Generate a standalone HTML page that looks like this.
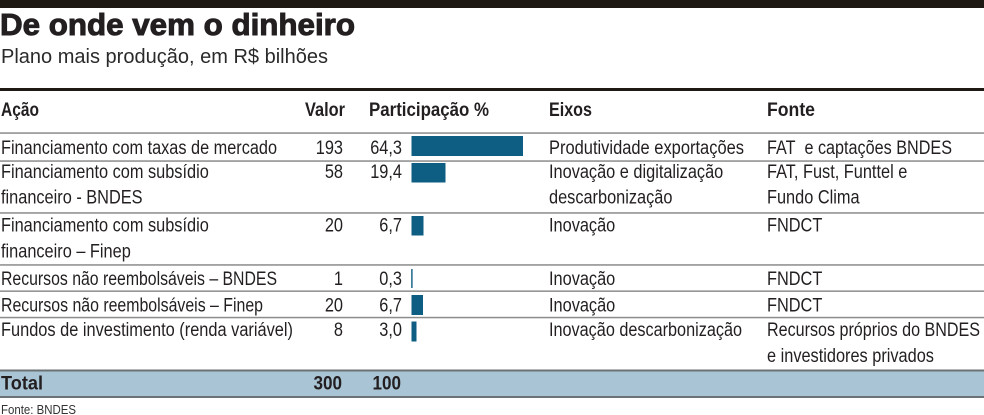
<!DOCTYPE html>
<html>
<head>
<meta charset="utf-8">
<style>
  html, body { margin:0; padding:0; background:#ffffff; }
  body { width:984px; height:415px; overflow:hidden; }
  svg { display:block; }
  .t { font-family:"Liberation Sans", Arial, sans-serif; font-size:19px; fill:#231f20; }
  .b { font-family:"Liberation Sans", Arial, sans-serif; font-size:19px; font-weight:bold; fill:#231f20; }
</style>
</head>
<body>
<svg width="984" height="415" viewBox="0 0 984 415" xmlns="http://www.w3.org/2000/svg">
  <!-- top bar -->
  <rect x="0" y="0" width="984" height="8" fill="#1e1912"/>
  <!-- title -->
  <text x="0" y="35" font-family="Liberation Sans, Arial, sans-serif" font-size="31" font-weight="bold" fill="#231f20" stroke="#231f20" stroke-width="1" textLength="355" lengthAdjust="spacingAndGlyphs">De onde vem o dinheiro</text>
  <text x="1" y="63" font-family="Liberation Sans, Arial, sans-serif" font-size="20" fill="#2a2a2a" textLength="327" lengthAdjust="spacingAndGlyphs">Plano mais produção, em R$ bilhões</text>

  <!-- header line -->
  <rect x="0" y="88" width="984" height="3" fill="#1e1912"/>

  <!-- headers -->
  <text class="b" x="1" y="116" textLength="38" lengthAdjust="spacingAndGlyphs">Ação</text>
  <text class="b" x="305" y="116" textLength="40" lengthAdjust="spacingAndGlyphs">Valor</text>
  <text class="b" x="369" y="116" textLength="120" lengthAdjust="spacingAndGlyphs">Participação %</text>
  <text class="b" x="549" y="116" textLength="43" lengthAdjust="spacingAndGlyphs">Eixos</text>
  <text class="b" x="767" y="116" textLength="48" lengthAdjust="spacingAndGlyphs">Fonte</text>

  <!-- row separators -->
  <g fill="#8c8c8c">
    <rect x="0" y="132.3" width="984" height="1.5"/>
    <rect x="0" y="160.3" width="984" height="1.5"/>
    <rect x="0" y="212.2" width="984" height="1.5"/>
    <rect x="0" y="264.2" width="984" height="1.5"/>
    <rect x="0" y="290.4" width="984" height="1.5"/>
    <rect x="0" y="316.8" width="984" height="1.5"/>
  </g>

  <!-- total band -->
  <rect x="0" y="369.5" width="984" height="28" fill="#a9c4d4"/>
  <rect x="0" y="369.5" width="984" height="2" fill="#6b7275"/>
  <rect x="0" y="396" width="984" height="2" fill="#6b7275"/>

  <!-- bars -->
  <g fill="#0d5e82">
    <rect x="411.5" y="136" width="111.5" height="20"/>
    <rect x="411.5" y="163" width="34" height="19.5"/>
    <rect x="411.5" y="216" width="12" height="19.5"/>
    <rect x="411.2" y="269" width="1.4" height="19"/>
    <rect x="411.5" y="295" width="11.5" height="20"/>
    <rect x="411.5" y="321.5" width="5" height="20"/>
  </g>

  <!-- Row 1 -->
  <text class="t" x="1" y="154" textLength="276" lengthAdjust="spacingAndGlyphs">Financiamento com taxas de mercado</text>
  <text class="t" text-anchor="end" transform="translate(343 154) scale(0.86 1)">193</text>
  <text class="t" text-anchor="end" transform="translate(402 154) scale(0.86 1)">64,3</text>
  <text class="t" x="549" y="154" textLength="195" lengthAdjust="spacingAndGlyphs">Produtividade exportações</text>
  <text class="t" x="767" y="154" textLength="185" lengthAdjust="spacingAndGlyphs">FAT&#160;&#160;e captações BNDES</text>

  <!-- Row 2 -->
  <text class="t" transform="translate(1 178) scale(0.86 1)">Financiamento com subsídio</text>
  <text class="t" transform="translate(1 203.5) scale(0.86 1)">financeiro - BNDES</text>
  <text class="t" text-anchor="end" transform="translate(343 178) scale(0.86 1)">58</text>
  <text class="t" text-anchor="end" transform="translate(402 178) scale(0.86 1)">19,4</text>
  <text class="t" transform="translate(549 178) scale(0.86 1)">Inovação e digitalização</text>
  <text class="t" transform="translate(549 203.5) scale(0.86 1)">descarbonização</text>
  <text class="t" transform="translate(767 178) scale(0.86 1)">FAT, Fust, Funttel e</text>
  <text class="t" transform="translate(767 203.5) scale(0.86 1)">Fundo Clima</text>

  <!-- Row 3 -->
  <text class="t" transform="translate(1 231.5) scale(0.86 1)">Financiamento com subsídio</text>
  <text class="t" transform="translate(1 257.5) scale(0.86 1)">financeiro – Finep</text>
  <text class="t" text-anchor="end" transform="translate(343 231.5) scale(0.86 1)">20</text>
  <text class="t" text-anchor="end" transform="translate(402 231.5) scale(0.86 1)">6,7</text>
  <text class="t" transform="translate(549 231.5) scale(0.86 1)">Inovação</text>
  <text class="t" transform="translate(767 231.5) scale(0.86 1)">FNDCT</text>

  <!-- Row 4 -->
  <text class="t" x="1" y="285" textLength="276" lengthAdjust="spacingAndGlyphs">Recursos não reembolsáveis – BNDES</text>
  <text class="t" text-anchor="end" transform="translate(343 285) scale(0.86 1)">1</text>
  <text class="t" text-anchor="end" transform="translate(402 285) scale(0.86 1)">0,3</text>
  <text class="t" transform="translate(549 285) scale(0.86 1)">Inovação</text>
  <text class="t" transform="translate(767 285) scale(0.86 1)">FNDCT</text>

  <!-- Row 5 -->
  <text class="t" x="1" y="311.5" textLength="262" lengthAdjust="spacingAndGlyphs">Recursos não reembolsáveis – Finep</text>
  <text class="t" text-anchor="end" transform="translate(343 311.5) scale(0.86 1)">20</text>
  <text class="t" text-anchor="end" transform="translate(402 311.5) scale(0.86 1)">6,7</text>
  <text class="t" transform="translate(549 311.5) scale(0.86 1)">Inovação</text>
  <text class="t" transform="translate(767 311.5) scale(0.86 1)">FNDCT</text>

  <!-- Row 6 -->
  <text class="t" x="1" y="336" textLength="292" lengthAdjust="spacingAndGlyphs">Fundos de investimento (renda variável)</text>
  <text class="t" text-anchor="end" transform="translate(343 336) scale(0.86 1)">8</text>
  <text class="t" text-anchor="end" transform="translate(402 336) scale(0.86 1)">3,0</text>
  <text class="t" x="549" y="336" textLength="193" lengthAdjust="spacingAndGlyphs">Inovação descarbonização</text>
  <text class="t" x="767" y="336" textLength="213" lengthAdjust="spacingAndGlyphs">Recursos próprios do BNDES</text>
  <text class="t" transform="translate(767 362) scale(0.86 1)">e investidores privados</text>

  <!-- Total -->
  <text class="b" x="1" y="389.5" textLength="42" lengthAdjust="spacingAndGlyphs">Total</text>
  <text class="b" text-anchor="end" transform="translate(342 389.5) scale(0.9 1)">300</text>
  <text class="b" text-anchor="end" transform="translate(401 389.5) scale(0.9 1)">100</text>

  <!-- source -->
  <text x="1" y="414" font-family="Liberation Sans, Arial, sans-serif" font-size="12.5" fill="#333333" textLength="75" lengthAdjust="spacingAndGlyphs">Fonte: BNDES</text>
</svg>
</body>
</html>
